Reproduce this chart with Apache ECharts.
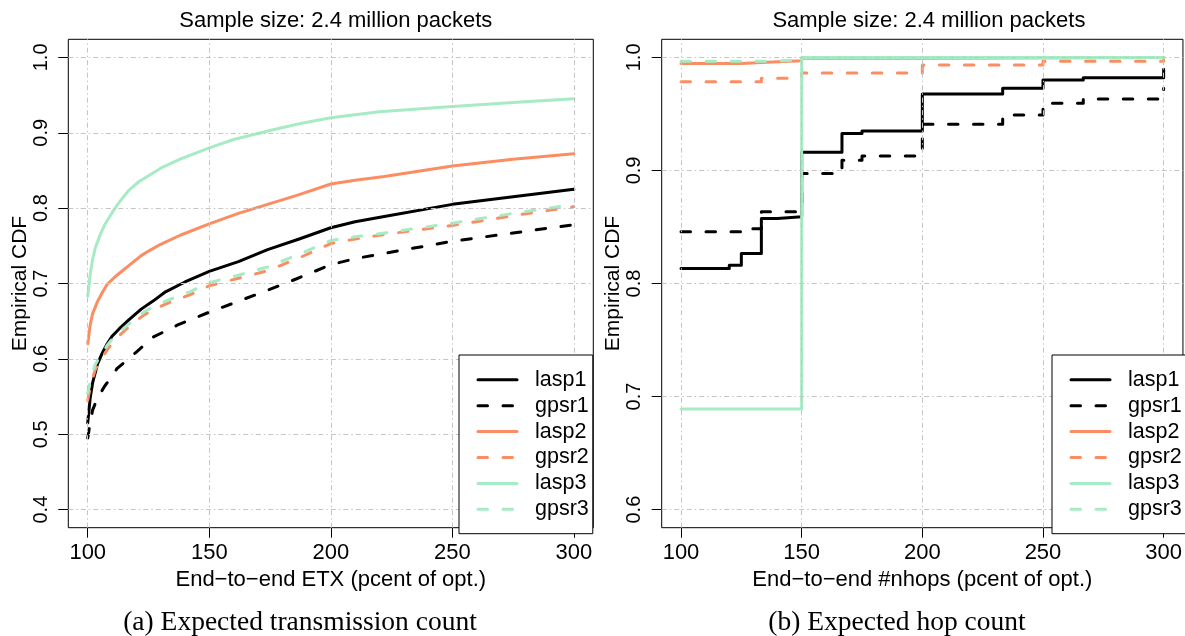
<!DOCTYPE html>
<html>
<head>
<meta charset="utf-8">
<script src="https://cdn.jsdelivr.net/npm/echarts@6/dist/echarts.min.js"></script>
<style>
  html, body { margin: 0; padding: 0; background: #ffffff; }
  #chart { width: 1185px; height: 636px; }
</style>
</head>
<body>
<div id="chart"></div>
<script>
// ---- tick positions ----
const xTicks = [100, 150, 200, 250, 300];
const yTicksEtx = [0.4, 0.5, 0.6, 0.7, 0.8, 0.9, 1.0];
const yTicksHops = [0.6, 0.7, 0.8, 0.9, 1.0];

// ---- series names (legend order) ----
const seriesNames = ['lasp1', 'gpsr1', 'lasp2', 'gpsr2', 'lasp3', 'gpsr3'];

// ---- (a) end-to-end ETX, pcent of optimum -> empirical CDF ----
const etxLasp1 = [[100,0.515],[101,0.548],[102,0.568],[104,0.593],[106,0.608],[108,0.620],[110,0.630],[113,0.640],[117,0.652],[122,0.666],[127,0.677],[132,0.689],[140,0.702],[150,0.716],[162,0.729],[174,0.745],[187,0.759],[200,0.774],[210,0.782],[222,0.789],[250,0.805],[275,0.815],[300,0.825]];
const etxGpsr1 = [[100,0.495],[101,0.515],[102,0.532],[104,0.548],[107,0.564],[110,0.577],[112,0.587],[116,0.598],[120,0.609],[127,0.629],[137,0.645],[150,0.662],[160,0.674],[174,0.691],[185,0.705],[200,0.725],[210,0.733],[222,0.740],[250,0.756],[275,0.767],[300,0.778]];
const etxLasp2 = [[100,0.620],[101,0.645],[102,0.660],[104,0.676],[106,0.688],[108,0.699],[112,0.711],[117,0.724],[122,0.737],[125,0.743],[130,0.752],[138,0.764],[150,0.779],[162,0.793],[175,0.806],[187,0.818],[200,0.832],[210,0.837],[222,0.842],[250,0.856],[275,0.865],[300,0.872]];
const etxGpsr2 = [[100,0.545],[101,0.562],[103,0.585],[105,0.597],[108,0.612],[111,0.625],[115,0.637],[119,0.648],[123,0.658],[128,0.667],[133,0.674],[142,0.685],[150,0.697],[162,0.707],[174,0.717],[187,0.734],[200,0.753],[210,0.759],[222,0.765],[250,0.777],[275,0.790],[300,0.802]];
const etxLasp3 = [[100,0.683],[101,0.712],[102,0.732],[103,0.746],[105,0.764],[107,0.778],[110,0.794],[113,0.808],[117,0.824],[121,0.835],[125,0.843],[130,0.853],[138,0.865],[150,0.880],[160,0.891],[175,0.903],[187,0.912],[200,0.920],[220,0.928],[250,0.935],[275,0.940],[300,0.945]];
const etxGpsr3 = [[100,0.554],[101,0.570],[103,0.592],[105,0.603],[108,0.618],[111,0.630],[115,0.641],[119,0.652],[123,0.662],[128,0.671],[133,0.678],[142,0.689],[150,0.701],[162,0.711],[174,0.722],[187,0.739],[200,0.757],[210,0.762],[222,0.767],[250,0.780],[275,0.793],[300,0.805]];

// ---- (b) end-to-end hop count, pcent of optimum -> empirical CDF (step functions) ----
const hopLasp1 = [[100,0.8133],[120,0.8162],[125,0.8265],[133.3,0.8575],[140,0.8590],[150,0.9162],[166.7,0.9327],[175,0.9348],[200,0.9676],[233.3,0.9726],[250,0.9800],[266.7,0.9820],[300,0.9894]];
const hopGpsr1 = [[100,0.8457],[125,0.8485],[133.3,0.8634],[150,0.8973],[166.7,0.9091],[175,0.9127],[200,0.9408],[233.3,0.9490],[250,0.9594],[266.7,0.9631],[300,0.9726]];
const hopLasp2 = [[100,0.9945],[125,0.9955],[133.3,0.9970],[150,0.9993],[200,0.9998],[300,1.0]];
const hopGpsr2 = [[100,0.9785],[133.3,0.9815],[150,0.9862],[200,0.9932],[250,0.9966],[300,0.9978]];
const hopLasp3 = [[100,0.689],[150,1.0],[300,1.0]];
const hopGpsr3 = [[100,0.9965],[133.3,0.9975],[150,1.0],[300,1.0]];

// ---- styling ----
const FONT = "'Liberation Sans', Arial, Helvetica, sans-serif";
const SERIF = "'Liberation Serif', 'Times New Roman', serif";
const colors = { lasp1: '#000000', gpsr1: '#000000', lasp2: '#fc8d62', gpsr2: '#fc8d62', lasp3: '#a6ebc3', gpsr3: '#a6ebc3' };
const DASH = [9.5, 15.5];

const grids = [
  { left: 68.3, top: 39.3, width: 525, height: 488.4 },
  { left: 661.7, top: 39.3, width: 524.5, height: 488.4 }
];

function xAxisFor(gi, name) {
  return {
    type: 'value', gridIndex: gi, min: 92, max: 308,
    name: name, nameLocation: 'middle', nameGap: 34,
    nameTextStyle: { fontFamily: FONT, fontSize: 22, color: '#000' },
    axisLine: { show: false },
    axisTick: { show: true, length: 10, lineStyle: { color: '#000', width: 1 }, customValues: xTicks },
    axisLabel: { customValues: xTicks, fontFamily: FONT, fontSize: 22, color: '#000', margin: 14 },
    splitLine: { show: false }
  };
}
function yAxisFor(gi, lo, hi, ticks) {
  return {
    type: 'value', gridIndex: gi, min: lo, max: hi,
    name: 'Empirical CDF', nameLocation: 'middle', nameGap: 38,
    nameTextStyle: { fontFamily: FONT, fontSize: 21, color: '#000' },
    axisLine: { show: false },
    axisTick: { show: true, length: 10, lineStyle: { color: '#000', width: 1 }, customValues: ticks },
    axisLabel: { customValues: ticks, rotate: 90, fontFamily: FONT, fontSize: 20, color: '#000', margin: 17,
                 formatter: v => v.toFixed(1) },
    splitLine: { show: false }
  };
}

// light dash-dot reference grid drawn beneath the curves
function gridLines(gi, yTicks) {
  return {
    type: 'line', xAxisIndex: gi, yAxisIndex: gi, data: [], z: 1, silent: true,
    markLine: {
      silent: true, symbol: 'none', animation: false, label: { show: false },
      lineStyle: { color: '#c4c4c4', width: 1, type: [5, 3, 1.5, 3] },
      emphasis: { disabled: true },
      data: xTicks.map(v => ({ xAxis: v })).concat(yTicks.map(v => ({ yAxis: v })))
    }
  };
}

function curve(gi, name, data, step) {
  const dashed = name.startsWith('gpsr');
  return {
    type: 'line', name: name, xAxisIndex: gi, yAxisIndex: gi, data: data,
    step: step ? 'end' : false, smooth: false, symbol: 'none', z: 2,
    lineStyle: { color: colors[name], width: 3, type: dashed ? DASH : 'solid', cap: 'round', join: 'round' },
    itemStyle: { color: colors[name] },
    emphasis: { disabled: true }
  };
}

const etxData = [etxLasp1, etxGpsr1, etxLasp2, etxGpsr2, etxLasp3, etxGpsr3];
const hopData = [hopLasp1, hopGpsr1, hopLasp2, hopGpsr2, hopLasp3, hopGpsr3];

function legendAt(left) {
  return {
    data: seriesNames, orient: 'vertical', left: left, top: 355,
    itemWidth: 39, itemHeight: 14, itemGap: 3.9,
    padding: [13.8, 4, 13.4, 17.5],
    borderColor: '#000', borderWidth: 1, backgroundColor: '#ffffff',
    itemStyle: { opacity: 0 },
    lineStyle: { width: 3 },
    textStyle: { fontFamily: FONT, fontSize: 21.5, color: '#000', lineHeight: 21, padding: [0, 0, 0, 13] },
    selectedMode: false, z: 10
  };
}

const chart = echarts.init(document.getElementById('chart'), null, { renderer: 'canvas' });
chart.setOption({
  animation: false,
  backgroundColor: '#ffffff',
  title: [
    { text: 'Sample size: 2.4 million packets', left: 330.8, top: 5, textAlign: 'center',
      textStyle: { fontFamily: FONT, fontSize: 22, fontWeight: 'normal', color: '#000' } },
    { text: 'Sample size: 2.4 million packets', left: 923.9, top: 5, textAlign: 'center',
      textStyle: { fontFamily: FONT, fontSize: 22, fontWeight: 'normal', color: '#000' } },
    { text: '(a) Expected transmission count', left: 295, top: 604, textAlign: 'center',
      textStyle: { fontFamily: SERIF, fontSize: 27.5, fontWeight: 'normal', color: '#000' } },
    { text: '(b) Expected hop count', left: 892, top: 604, textAlign: 'center',
      textStyle: { fontFamily: SERIF, fontSize: 27.5, fontWeight: 'normal', color: '#000' } }
  ],
  grid: grids.map(g => Object.assign({ show: true, borderColor: '#000', borderWidth: 1, backgroundColor: 'transparent', containLabel: false }, g)),
  xAxis: [
    xAxisFor(0, 'End\u2212to\u2212end ETX (pcent of opt.)'),
    xAxisFor(1, 'End\u2212to\u2212end #nhops (pcent of opt.)')
  ],
  yAxis: [
    yAxisFor(0, 0.376, 1.024, yTicksEtx),
    yAxisFor(1, 0.584, 1.016, yTicksHops)
  ],
  legend: [legendAt(459), legendAt(1052)],
  series: [gridLines(0, yTicksEtx), gridLines(1, yTicksHops)]
    .concat(seriesNames.map((n, i) => curve(0, n, etxData[i], false)))
    .concat(seriesNames.map((n, i) => curve(1, n, hopData[i], true)))
});
</script>
</body>
</html>
